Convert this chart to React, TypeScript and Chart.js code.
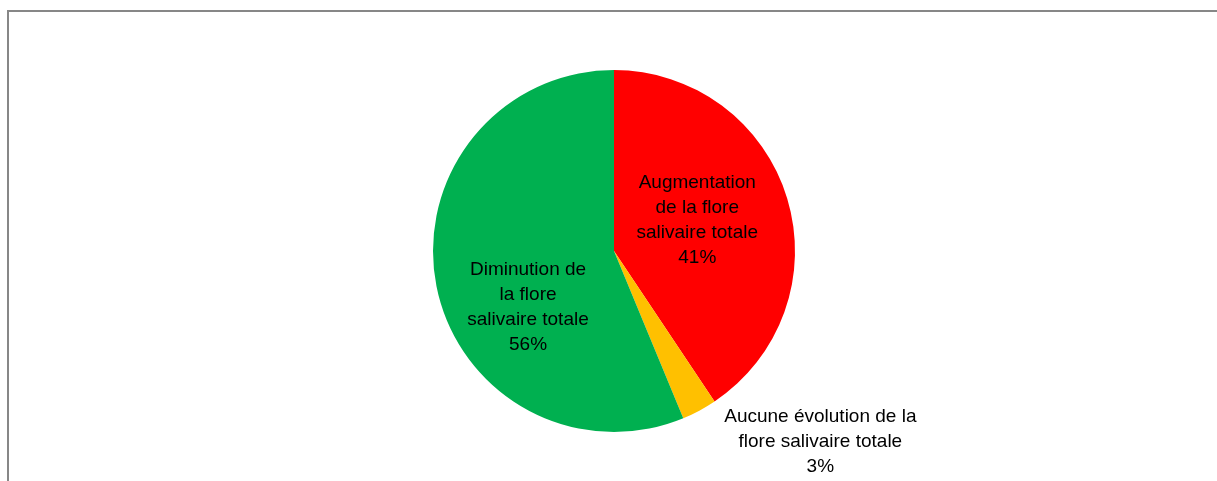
import React, { useEffect, useRef } from "react";
import { Chart, registerables } from "chart.js";

Chart.register(...registerables);

const categories = [
  "Augmentation de la flore salivaire totale",
  "Aucune évolution de la flore salivaire totale",
  "Diminution de la flore salivaire totale",
];
const values = [13, 1, 18];
const labelLines = [
  ["Augmentation", "de la flore", "salivaire totale"],
  ["Aucune évolution de la", "flore salivaire totale"],
  ["Diminution de", "la flore", "salivaire totale"],
];
const colors = ["#FF0000", "#FFC000", "#00B050"];
// label block centre, relative to pie centre, in units of the outer radius
const labelPlacement = [
  { dx: 0.46, dy: -0.17 },
  { dx: 1.14, dy: 1.055 },
  { dx: -0.475, dy: 0.31 },
];

const labelPlugin = {
  id: "pieLabels",
  afterDatasetsDraw(chart: any) {
    const meta = chart.getDatasetMeta(0);
    const ctx = chart.ctx;
    const data = chart.data.datasets[0].data as number[];
    const total = data.reduce((a, b) => a + b, 0);
    ctx.save();
    ctx.font = "19px 'Liberation Sans', Arial, sans-serif";
    ctx.fillStyle = "#000000";
    ctx.textAlign = "center";
    ctx.textBaseline = "middle";
    const lh = 25;
    meta.data.forEach((arc: any, i: number) => {
      const r = arc.outerRadius;
      const cx = arc.x + labelPlacement[i].dx * r;
      const cy = arc.y + labelPlacement[i].dy * r;
      const lines = [...labelLines[i], Math.round((data[i] / total) * 100) + "%"];
      const y0 = cy - ((lines.length - 1) * lh) / 2;
      lines.forEach((t, j) => ctx.fillText(t, cx, y0 + j * lh));
    });
    ctx.restore();
  },
};

export default function App() {
  const ref = useRef<HTMLCanvasElement | null>(null);
  useEffect(() => {
    if (!ref.current) return;
    const chart = new Chart(ref.current, {
      type: "pie",
      data: {
        labels: categories,
        datasets: [
          {
            data: values,
            backgroundColor: colors,
            borderWidth: 0,
          },
        ],
      },
      options: {
        animation: false,
        responsive: false,
        layout: { padding: { left: 11, right: 0, top: 70, bottom: 49 } },
        plugins: {
          legend: { display: false },
          tooltip: { enabled: false },
        },
      },
      plugins: [labelPlugin],
    });
    return () => chart.destroy();
  }, []);
  return (
    <div
      style={{
        position: "fixed",
        left: 0,
        top: 0,
        width: 1217,
        height: 481,
        overflow: "hidden",
        background: "#ffffff",
      }}
    >
      <div
        style={{
          position: "absolute",
          left: 7,
          top: 10,
          width: 1400,
          height: 700,
          borderLeft: "2px solid #878787",
          borderTop: "2px solid #878787",
        }}
      />
      <canvas
        ref={ref}
        width={1217}
        height={481}
        style={{ position: "absolute", left: 0, top: 0, width: 1217, height: 481 }}
      />
    </div>
  );
}
